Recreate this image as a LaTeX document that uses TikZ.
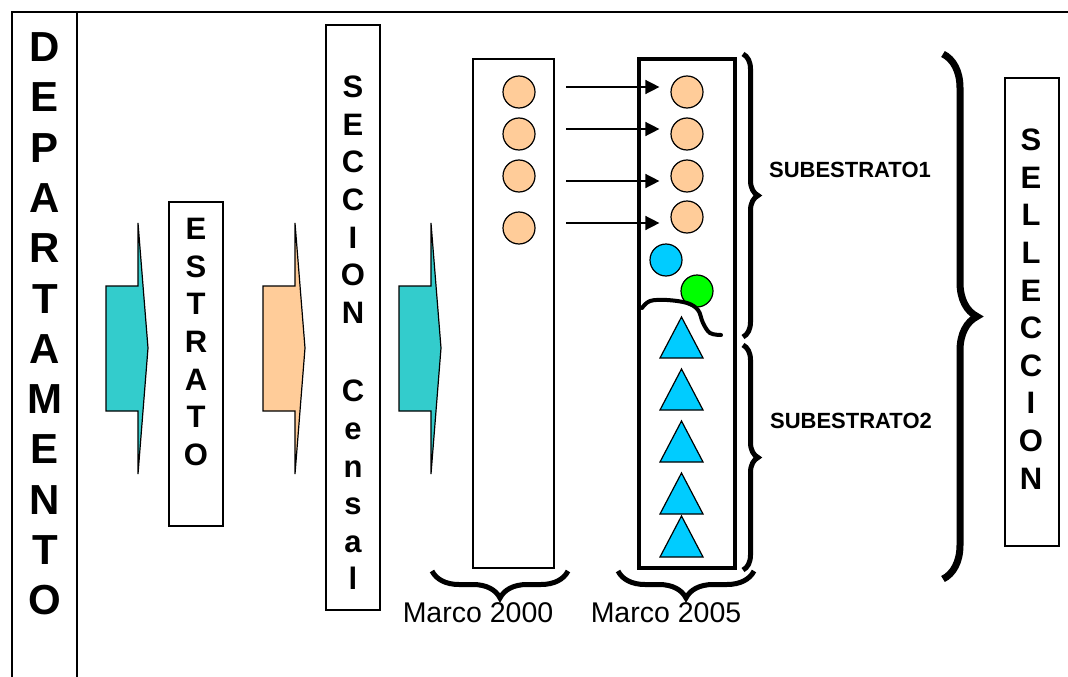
\documentclass[tikz,border=0pt]{standalone}
\usepackage{fontspec}
\setmainfont{Liberation Sans}
\usetikzlibrary{arrows.meta,decorations.pathreplacing}
\definecolor{tealfill}{HTML}{33CCCC}
\definecolor{peachfill}{HTML}{FFCC99}
\definecolor{cyanfill}{HTML}{00CCFF}
\definecolor{greenfill}{HTML}{00FF00}
\tikzset{
  frameline/.style={line width=1.5pt},
  plainbox/.style={draw, rectangle, line width=1.2pt, inner sep=0pt},
  thickbox/.style={draw, rectangle, line width=4pt, inner sep=0pt},
  vletters/.style={font=\bfseries\fontsize{31}{37.6}\selectfont, align=center, inner sep=0pt},
  bigletters/.style={font=\bfseries\fontsize{42}{50.3}\selectfont, align=center, inner sep=0pt},
  sublabel/.style={font=\bfseries\fontsize{22}{26}\selectfont, inner sep=0pt},
  marcolabel/.style={font=\fontsize{28.5}{32}\selectfont, inner sep=0pt},
  dot/.style={circle, draw, line width=1.2pt, minimum size=32pt, inner sep=0pt},
  thinarrow/.style={line width=1.5pt, -{Triangle[length=14pt,width=14pt]}},
  tri/.style={draw, line width=1.2pt, fill=cyanfill, line join=miter},
  bracestyle/.style={line width=5pt, decorate},
  pics/blockarr/.style={code={
    \draw[line width=1.2pt, fill=#1, line join=miter]
      (0,286) -- (32,286) -- (32,223) -- (42,348) -- (32,474) -- (32,411) -- (0,411) -- cycle;}}
}
\begin{document}
\begin{tikzpicture}[x=1pt,y=-1pt]
\useasboundingbox (0,0) rectangle (1068,677);

% frame
\draw[frameline] (12,677) -- (12,12) -- (1068,12);
\draw[frameline] (77,12) -- (77,677);
\node[bigletters] (dep) at (45,324) {D\\E\\P\\A\\R\\T\\A\\M\\E\\N\\T\\O};

% block arrows
\pic at (106,0) {blockarr=tealfill};
\pic at (263,0) {blockarr=peachfill};
\pic at (399,0) {blockarr=tealfill};

% ESTRATO
\node[plainbox, minimum width=54pt, minimum height=324pt] (estrbox) at (196,364) {};
\node[vletters] (estr) at (196,342) {E\\S\\T\\R\\A\\T\\O};

% SECCION Censal
\node[plainbox, minimum width=54pt, minimum height=585pt] (seccbox) at (353,317.5) {};
\node[vletters] (secc) at (353,333) {S\\E\\C\\C\\I\\O\\N\\[41pt]C\\e\\n\\s\\a\\l};

% Marco 2000 box
\node[plainbox, minimum width=81pt, minimum height=509pt] (m2000) at (513.5,313.5) {};
% Marco 2005 box
\node[thickbox, minimum width=96pt, minimum height=509pt] (m2005) at (687,313.5) {};

% circles left
\node[dot, fill=peachfill] (L1) at (519,92) {};
\node[dot, fill=peachfill] (L2) at (519,134) {};
\node[dot, fill=peachfill] (L3) at (519,176) {};
\node[dot, fill=peachfill] (L4) at (519,228) {};
% circles right
\node[dot, fill=peachfill] (R1) at (687,92) {};
\node[dot, fill=peachfill] (R2) at (687,134) {};
\node[dot, fill=peachfill] (R3) at (687,176) {};
\node[dot, fill=peachfill] (R4) at (687,217) {};
\node[dot, fill=cyanfill] (B1) at (666,260) {};
\node[dot, fill=greenfill] (G1) at (697,291) {};

% arrows
\coordinate (a1) at (566,87);
\coordinate (a2) at (566,129);
\coordinate (a3) at (566,181);
\coordinate (a4) at (566,223);
\draw[thinarrow, shorten >=11pt] (a1) -- (a1 -| R1.west);
\draw[thinarrow, shorten >=11pt] (a2) -- (a2 -| R2.west);
\draw[thinarrow, shorten >=11pt] (a3) -- (a3 -| R3.west);
\draw[thinarrow, shorten >=11pt] (a4) -- (a4 -| R4.west);

% wavy separator
\draw[line width=4pt, line cap=round] plot[smooth, tension=0.6] coordinates
  {(642,308) (650,301) (667,300) (687,303) (698,310) (703,323) (710,333) (721,335)};

% triangles
\foreach \ya in {317,369,421,473,516}{
  \path[tri] (681.5,\ya) -- (703,\ya+41) -- (660,\ya+41) -- cycle;
}

% braces
\draw[bracestyle, decoration={brace, amplitude=15pt}] (743,54) -- (743,337);
\draw[bracestyle, decoration={brace, amplitude=15pt}] (743,345) -- (743,570);
\draw[line width=7pt, decorate, decoration={brace, amplitude=34pt}] (943,54) -- (943,579);
\draw[bracestyle, decoration={brace, amplitude=27pt}] (568,571) -- (432,571);
\draw[bracestyle, decoration={brace, amplitude=27pt}] (754,571) -- (618,571);

% labels
\node[sublabel] (s1) at (850,170) {SUBESTRATO1};
\node[sublabel] (s2) at (851,421) {SUBESTRATO2};
\node[marcolabel] (mk1) at (478,613) {Marco 2000};
\node[marcolabel] (mk2) at (666,613) {Marco 2005};

% SELLECCION
\node[plainbox, minimum width=54pt, minimum height=468pt] (selbox) at (1032,312) {};
\node[vletters] (sel) at (1031,309) {S\\E\\L\\L\\E\\C\\C\\I\\O\\N};
\end{tikzpicture}
\end{document}
